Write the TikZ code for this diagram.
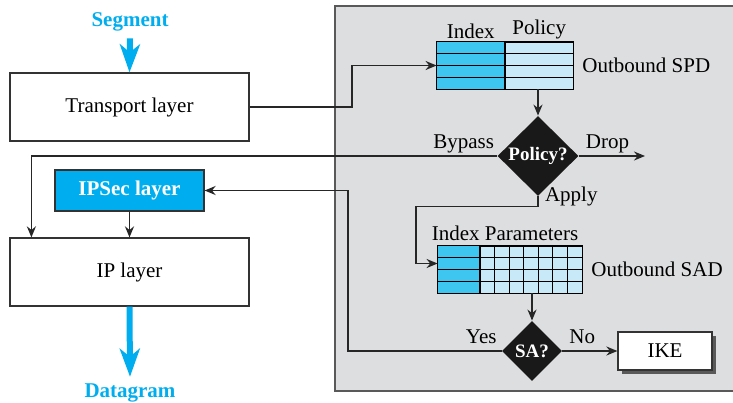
\documentclass[tikz,border=0pt]{standalone}
\usepackage{fontspec}
\setmainfont{Liberation Serif}
\usetikzlibrary{calc,positioning,arrows.meta,shapes.geometric,shadows}
\definecolor{ipblue}{RGB}{0,174,239}
\definecolor{idxcol}{RGB}{62,198,240}
\definecolor{parcol}{RGB}{200,234,248}
\definecolor{panelgray}{RGB}{221,222,224}
\tikzset{
  layerbox/.style={draw=black!80,fill=white,line width=0.6pt,
    minimum width=119.5pt,minimum height=34pt},
  decision/.style={diamond,aspect=1,fill=black!90,text=white,
    font=\fontsize{9.5}{10}\selectfont\bfseries,inner sep=0pt},
  arr/.style={black!85,line width=0.9pt,-{Stealth[length=5.5pt,width=4.5pt]}},
  bigarr/.style={ipblue,line width=3pt,-{Stealth[length=14pt,width=10pt,inset=4pt]}},
  bluetext/.style={text=ipblue,font=\fontsize{10.5}{12}\selectfont\bfseries}
}
\begin{document}
\begin{tikzpicture}[x=0.5pt,y=-0.5pt,font=\fontsize{10.5}{12}\selectfont]
      \useasboundingbox (0,0) rectangle (733,402);
      \filldraw[fill=panelgray,draw=black!65,line width=1pt] (335,6) rectangle (745,391);
      % left stack
      \node[bluetext] (seg) at (130,22) {Segment};
      \node[layerbox] (transport) at (129.5,107) {Transport layer};
      \node[draw=black!80,fill=ipblue,text=white,line width=0.6pt,
            font=\fontsize{10.5}{12}\selectfont\bfseries,
            minimum width=74.5pt,minimum height=20.5pt] (ipsec) at (129.5,190.5) {IPSec layer};
      \node[layerbox] (ip) at (129.5,272) {IP layer};
      \node[bluetext] (dgram) at (130,393) {Datagram};
      \draw[bigarr] (seg.south) -- (transport.north);
      \draw[bigarr] (ip.south) -- (dgram.north);
      \draw[arr] (ipsec) -- (ip);
      % SPD
      \node[draw,fill=parcol,minimum width=68pt,minimum height=23.5pt,inner sep=0pt] (spd) at (505,65.5) {};
      \fill[idxcol] (spd.north west) rectangle (spd.south);
      \foreach \r in {1,2,3}
        \draw[line width=0.6pt] ($(spd.north west)!\r/4!(spd.south west)$) -- ($(spd.north east)!\r/4!(spd.south east)$);
      \draw[line width=0.6pt] (spd.north) -- (spd.south);
      \draw[line width=0.6pt] (spd.north west) rectangle (spd.south east);
      \node[above=-2pt] (spdidx) at ($(spd.north west)!0.25!(spd.north east)$) {Index};
      \node[above=-2pt] (spdpol) at ($(spd.north west)!0.75!(spd.north east)$) {Policy};
      \node[right=1pt of spd] (spdname) {Outbound SPD};
      % SAD
      \node[draw,fill=parcol,minimum width=72pt,minimum height=23.5pt,inner sep=0pt] (sad) at (510,269.5) {};
      \fill[idxcol] (sad.north west) rectangle (480,293);
      \foreach \r in {1,2,3}
        \draw[line width=0.6pt] ($(sad.north west)!\r/4!(sad.south west)$) -- ($(sad.north east)!\r/4!(sad.south east)$);
      \foreach \c in {0,...,6}
        \draw[line width=0.6pt] ({480+\c*14.57},246) -- ({480+\c*14.57},293);
      \draw[line width=0.6pt] (sad.north west) rectangle (sad.south east);
      \node[above=-1pt,xshift=-2.5pt] (sadhead) at (sad.north) {Index Parameters};
      \node[right=1pt of sad] (sadname) {Outbound SAD};
      % decisions
      \node[decision,minimum width=40.5pt,minimum height=40pt] (pol) at (538,156) {Policy?};
      \node[decision,minimum width=30pt,minimum height=30pt] (sa) at (532,351) {SA?};
      \node[draw=black!80,fill=white,line width=0.6pt,minimum width=47pt,minimum height=19pt,
            drop shadow={shadow xshift=2pt,shadow yshift=-2pt,fill=black!65,opacity=1}] (ike) at (665,351) {IKE};
      \node[above left=-2pt and -2pt] (bypass) at (pol.west) {Bypass};
      \node[above right=-2pt and 0pt] (drop) at (pol.east) {Drop};
      \node[right=0pt] (apply) at (pol.south) {Apply};
      \node[above left=0pt and -1pt] (yes) at (sa.west) {Yes};
      \node[above right=0pt and 0pt] (no) at (sa.east) {No};
      \coordinate (dropend) at (645,156);
      \coordinate (sadin) at ($(sad.west)+(0,-6)$);
      % connectors
      \draw[arr] (transport.east) -- (352,107) |- (spd.west);
      \draw[arr] (spd.south -| pol.north) -- (pol.north);
      \draw[arr] (pol.east) -- (dropend);
      \draw[arr] (pol.west) -| ($(ip.north west)+(22,0)$);
      \draw[arr] (pol.south) -- ++(0,10) -| ($(sadin)+(-22,0)$) -- (sadin);
      \draw[arr] (sad.south -| sa.north) -- (sa.north);
      \draw[arr] (sa.east) -- (ike.west);
      \draw[arr] (sa.west) -- (348,351) |- (ipsec.east);
    \end{tikzpicture}
\end{document}
